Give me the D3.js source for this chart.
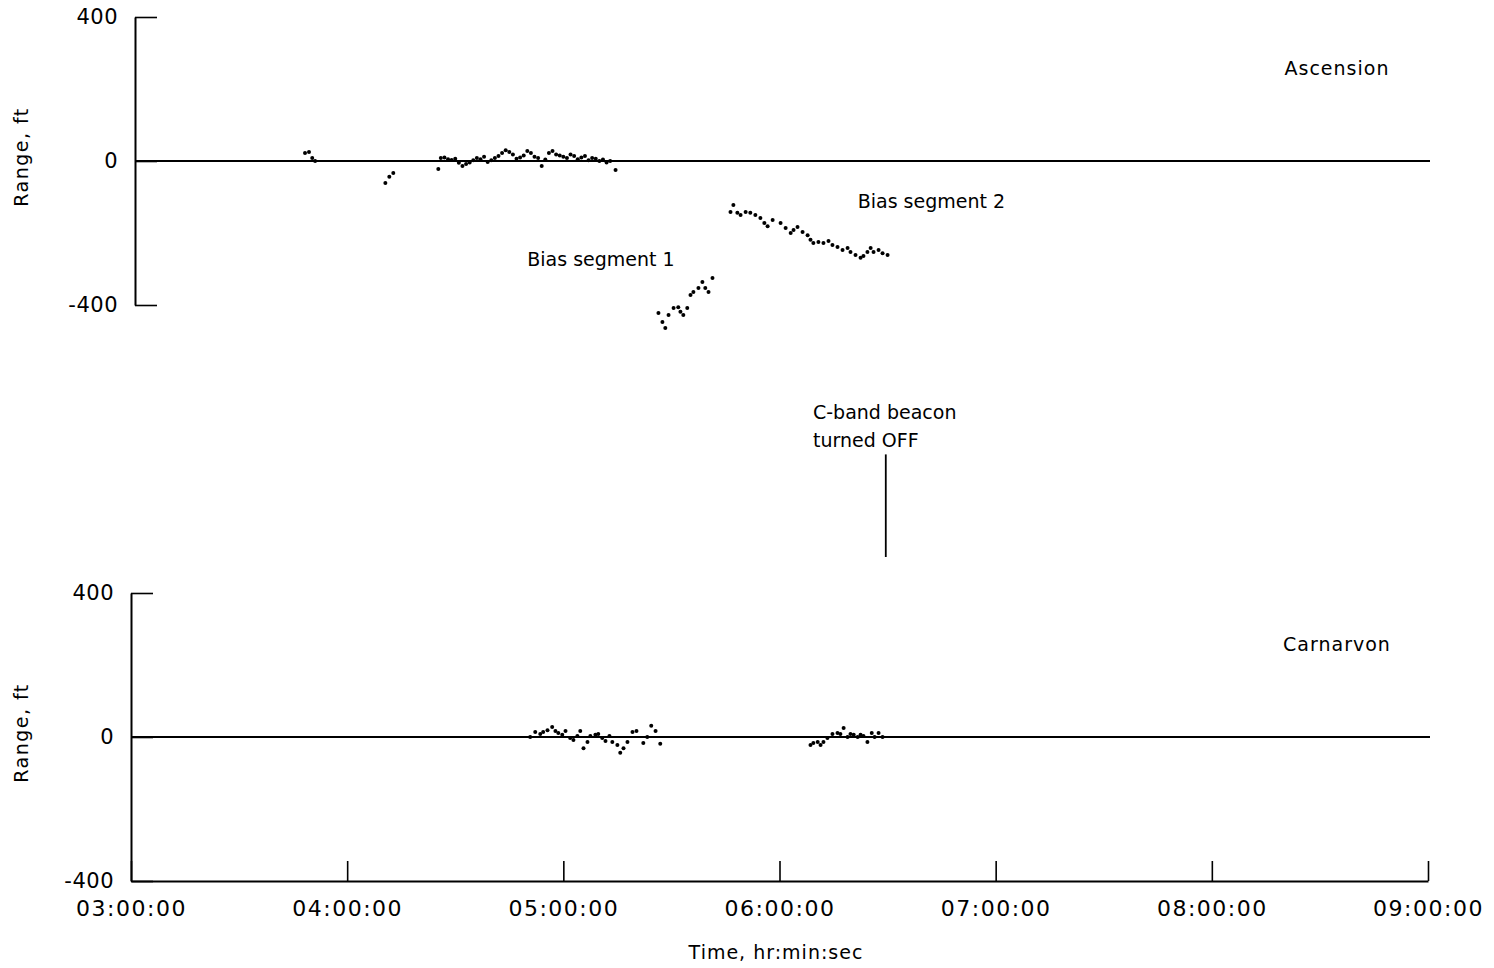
<!DOCTYPE html>
<html>
<head>
<meta charset="utf-8">
<script src="https://cdn.jsdelivr.net/npm/d3@7"></script>
<style>
  body { margin: 0; background: #fff; }
  svg { display: block; }
  text { font-family: "DejaVu Sans", sans-serif; fill: #000; }
</style>
</head>
<body>
<svg id="chart"></svg>
<script>
// time is minutes after 03:00:00, range in ft
const hourTicks = [0, 60, 120, 180, 240, 300, 360];
const hourLabels = ["03:00:00", "04:00:00", "05:00:00", "06:00:00", "07:00:00", "08:00:00", "09:00:00"];
const rangeTicks = [-400, 0, 400];

// Ascension, residuals near zero
const ascensionZero = [
  [48.3, 22], [49.4, 25], [50.3, 8], [51.1, 0],
  [70.6, -61], [71.7, -44], [72.8, -33],
  [85.3, -22], [86.0, 8], [87.0, 10], [88.0, 5], [89.0, 3], [90.0, 6], [91.0, -5],
  [92.0, -14], [93.0, -8], [94.0, -4], [95.0, 2], [96.0, 8], [97.0, 5], [98.0, 12],
  [99.0, -3], [100.0, 2], [101.0, 8], [102.0, 14], [103.0, 22], [104.0, 30], [105.0, 25],
  [106.0, 18], [107.0, 6], [108.0, 10], [109.0, 15], [110.0, 28], [111.0, 22], [112.0, 12],
  [113.0, 8], [114.0, -14], [115.0, 4], [116.0, 22], [117.0, 28], [118.0, 18], [119.0, 15],
  [120.0, 12], [121.0, 8], [122.0, 18], [123.0, 14], [124.0, 5], [125.0, 10], [126.0, 14],
  [127.0, 2], [128.0, 8], [129.0, 6], [130.0, 0], [131.0, 4], [132.0, -4], [133.0, 0],
  [134.5, -25]
];

const biasSegment1 = [
  [146.4, -422], [147.5, -447], [148.3, -464], [149.2, -428], [150.6, -408], [151.9, -406],
  [152.5, -419], [153.3, -428], [154.4, -408], [155.3, -372], [156.1, -364], [157.5, -353],
  [158.6, -336], [159.4, -353], [160.3, -364], [161.4, -325]
];

const biasSegment2 = [
  [166.4, -142], [167.2, -122], [168.3, -144], [169.2, -150], [170.6, -142], [171.9, -144],
  [173.3, -150], [174.7, -158], [175.8, -172], [176.7, -181], [178.1, -164], [180.3, -172],
  [181.7, -186], [183.1, -200], [183.9, -192], [185.0, -183], [186.4, -197], [187.8, -206],
  [188.6, -219], [189.4, -228], [190.8, -225], [192.2, -228], [193.6, -222], [194.7, -233],
  [196.1, -239], [197.5, -247], [198.9, -242], [199.7, -253], [201.1, -261], [202.5, -269],
  [203.3, -264], [204.4, -253], [205.3, -242], [206.1, -253], [207.5, -247], [208.6, -256],
  [210.0, -261]
];

const carnarvon = [
  [110.8, 0], [112.2, 14], [113.6, 8], [114.4, 14], [115.6, 19], [116.9, 28], [117.8, 17],
  [118.6, 11], [119.7, 6], [120.6, 17], [121.9, -3], [122.8, -8], [123.9, 3], [124.7, 17],
  [125.6, -31], [126.7, -14], [127.5, 3], [128.9, 6], [129.7, 8], [130.8, -3], [131.7, -11],
  [132.8, 3], [133.6, -14], [135.0, -22], [135.8, -44], [136.7, -31], [137.8, -14], [139.2, 14],
  [140.3, 17], [142.2, -17], [143.3, 0], [144.4, 31], [145.6, 17], [146.9, -19],
  [188.6, -22], [189.4, -17], [190.6, -14], [191.4, -22], [192.2, -14], [193.3, -3], [194.7, 8],
  [196.1, 11], [196.9, 8], [197.8, 25], [198.9, 0], [199.7, 8], [200.6, 6], [201.7, 0],
  [202.5, 6], [203.3, 3], [204.4, -14], [205.6, 11], [206.4, 0], [207.5, 11], [208.6, 0]
];

// beacon OFF marker, drawn in the lower panel's range units
const beaconTime = 209.5;
const beaconSpan = [500, 785];

const width = 1494, height = 968;

const svg = d3.select("#chart")
  .attr("width", width)
  .attr("height", height);

const x = d3.scaleLinear().domain([0, 360]).range([131, 1428]);
const yTop = d3.scaleLinear().domain([-400, 400]).range([305, 17]);
const yBot = d3.scaleLinear().domain([-400, 400]).range([881, 593]);

function styleAxis(g, size, spacing) {
  g.select(".domain").attr("stroke", "#000").attr("stroke-width", 2);
  g.selectAll(".tick line").attr("stroke", "#000").attr("stroke-width", 1.6);
  g.selectAll(".tick text")
    .attr("font-family", "DejaVu Sans, sans-serif")
    .attr("font-size", size)
    .attr("letter-spacing", spacing)
    .attr("fill", "#000");
}

function drawPanel(yScale, xOffset, sets, name, nameY) {
  const yAxis = svg.append("g")
    .attr("transform", `translate(${x(0) + xOffset},0)`)
    .call(d3.axisLeft(yScale)
      .tickValues(rangeTicks)
      .tickSizeInner(-22)
      .tickSizeOuter(0)
      .tickPadding(17)
      .tickFormat(d => String(d)));
  styleAxis(yAxis, 21, 0.5);

  // zero reference line
  svg.append("line")
    .attr("x1", x(0) + xOffset)
    .attr("x2", x(360) + 2)
    .attr("y1", yScale(0))
    .attr("y2", yScale(0))
    .attr("stroke", "#000")
    .attr("stroke-width", 2);

  const container = svg.append("g");
  sets.forEach(pts => {
    container.selectAll(null)
      .data(pts)
      .join("circle")
      .attr("cx", d => x(d[0]))
      .attr("cy", d => yScale(d[1]))
      .attr("r", 2)
      .attr("fill", "#000");
  });

  svg.append("text")
    .attr("transform", `translate(28,${yScale(0) - 4}) rotate(-90)`)
    .attr("text-anchor", "middle")
    .attr("font-size", 19)
    .attr("letter-spacing", 1.5)
    .text("Range, ft");

  svg.append("text")
    .attr("x", x(360) - 91)
    .attr("y", nameY)
    .attr("text-anchor", "middle")
    .attr("font-size", 19)
    .attr("letter-spacing", 1)
    .text(name);
}

drawPanel(yTop, 4, [ascensionZero, biasSegment1, biasSegment2], "Ascension", yTop(238));
drawPanel(yBot, 0, [carnarvon], "Carnarvon", yBot(240));

// time axis on the lower panel
const xAxis = svg.append("g")
  .attr("transform", `translate(0,${yBot(-400)})`)
  .call(d3.axisBottom(x)
    .tickValues(hourTicks)
    .tickSizeInner(-20)
    .tickSizeOuter(0)
    .tickPadding(19)
    .tickFormat((d, i) => hourLabels[i]));
styleAxis(xAxis, 22, 1.5);

svg.append("text")
  .attr("x", 776)
  .attr("y", 959)
  .attr("text-anchor", "middle")
  .attr("font-size", 19)
  .attr("letter-spacing", 1)
  .text("Time, hr:min:sec");

// annotations
svg.append("text")
  .attr("x", x(110))
  .attr("y", yTop(-292))
  .attr("font-size", 19)
  .text("Bias segment 1");

svg.append("text")
  .attr("x", x(201.7))
  .attr("y", yTop(-130))
  .attr("font-size", 19)
  .text("Bias segment 2");

svg.append("line")
  .attr("x1", x(beaconTime))
  .attr("x2", x(beaconTime))
  .attr("y1", yBot(beaconSpan[0]))
  .attr("y2", yBot(beaconSpan[1]))
  .attr("stroke", "#000")
  .attr("stroke-width", 1.8);

const beacon = svg.append("text")
  .attr("x", 813)
  .attr("y", 419)
  .attr("font-size", 19);
beacon.append("tspan").attr("x", 813).text("C-band beacon");
beacon.append("tspan").attr("x", 813).attr("dy", 28).text("turned OFF");
</script>
</body>
</html>
